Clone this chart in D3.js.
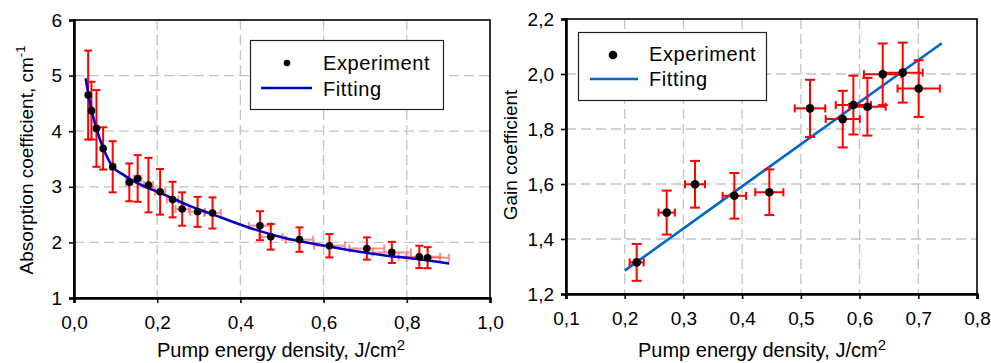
<!DOCTYPE html>
<html><head><meta charset="utf-8">
<script src="https://cdn.jsdelivr.net/npm/d3@7"></script>
<style>
html,body{margin:0;padding:0;background:#fff;}
text{font-family:"Liberation Sans",Arial,sans-serif;fill:#000;}
</style></head>
<body>
<svg id="c" width="991" height="363"></svg>
<script>
// ---------- Data: absorption (left) ----------
const absX    = [0.034,0.042,0.054,0.070,0.093,0.133,0.153,0.179,0.207,0.237,0.260,0.297,0.333,0.447,0.473,0.542,0.614,0.704,0.764,0.830,0.850];
const absY    = [4.65,4.37,4.05,3.69,3.36,3.08,3.15,3.03,2.91,2.77,2.60,2.55,2.53,2.30,2.10,2.05,1.94,1.89,1.82,1.74,1.725];
const absYErr = [0.80,0.52,0.69,0.38,0.46,0.34,0.42,0.49,0.41,0.32,0.30,0.27,0.28,0.26,0.23,0.22,0.21,0.20,0.19,0.20,0.19];
const absXErr = [0.002,0.003,0.003,0.004,0.006,0.008,0.009,0.011,0.012,0.014,0.016,0.018,0.020,0.027,0.028,0.033,0.037,0.042,0.046,0.050,0.051];
const absFitX = [0.028,0.040,0.055,0.070,0.093,0.120,0.143,0.175,0.207,0.271,0.335,0.423,0.504,0.583,0.663,0.744,0.824,0.902];
const absFitY = [4.95,4.45,4.02,3.70,3.36,3.21,3.10,2.99,2.89,2.68,2.50,2.26,2.085,1.965,1.86,1.77,1.70,1.62];
const absXTicks = [0,0.2,0.4,0.6,0.8,1.0];
const absXTickLabels = ["0,0","0,2","0,4","0,6","0,8","1,0"];
const absYTicks = [1,2,3,4,5,6];
const absYTickLabels = ["1","2","3","4","5","6"];

// ---------- Data: gain (right) ----------
const gainX    = [0.2204,0.2715,0.3197,0.3867,0.4463,0.5156,0.5713,0.5894,0.6133,0.6394,0.6735,0.7007];
const gainY    = [1.315,1.496,1.599,1.557,1.570,1.875,1.836,1.887,1.881,1.999,2.005,1.947];
const gainYErr = [0.067,0.080,0.085,0.083,0.083,0.104,0.103,0.107,0.105,0.112,0.109,0.103];
const gainXErr = [0.012,0.014,0.017,0.020,0.024,0.026,0.029,0.030,0.031,0.032,0.034,0.036];
const gainFitX = [0.20,0.74];
const gainFitY = [1.285,2.112];
const gainXTicks = [0.1,0.2,0.3,0.4,0.5,0.6,0.7,0.8];
const gainXTickLabels = ["0,1","0,2","0,3","0,4","0,5","0,6","0,7","0,8"];
const gainYTicks = [1.2,1.4,1.6,1.8,2.0,2.2];
const gainYTickLabels = ["1,2","1,4","1,6","1,8","2,0","2,2"];

const legendLabels = ["Experiment","Fitting"];

const svg = d3.select("#c");
svg.append("rect").attr("width",991).attr("height",363).attr("fill","#fff");

function panel(cfg){
  const {x,y,xTicks,xLabels,yTicks,yLabels} = cfg;
  const g = svg.append("g");
  const [x0,x1] = x.range(), [y0,y1] = y.range();
  // grid
  g.selectAll(".gx").data(xTicks.slice(1,-1)).join("line")
    .attr("x1",d=>x(d)).attr("x2",d=>x(d)).attr("y1",y1).attr("y2",y0)
    .attr("stroke","#c4c4c4").attr("stroke-width",1.3).attr("stroke-dasharray","10,5");
  g.selectAll(".gy").data(yTicks.slice(1,-1)).join("line")
    .attr("y1",d=>y(d)).attr("y2",d=>y(d)).attr("x1",x0).attr("x2",x1)
    .attr("stroke","#c4c4c4").attr("stroke-width",1.3).attr("stroke-dasharray","10,5");
  // frame
  g.append("rect").attr("x",x0).attr("y",y1).attr("width",x1-x0).attr("height",y0-y1)
    .attr("fill","none").attr("stroke","#000").attr("stroke-width",1.6);
  // axes
  const ax = d3.axisBottom(x).tickValues(xTicks).tickFormat((d,i)=>xLabels[i]).tickSizeOuter(0).tickSize(5).tickPadding(6);
  const ay = d3.axisLeft(y).tickValues(yTicks).tickFormat((d,i)=>yLabels[i]).tickSizeOuter(0).tickSize(5).tickPadding(7);
  const gx = g.append("g").attr("transform",`translate(0,${y0})`).call(ax);
  const gy = g.append("g").attr("transform",`translate(${x0},0)`).call(ay);
  [gx,gy].forEach(a=>{
    a.select(".domain").attr("stroke","#000").attr("stroke-width",2.6);
    a.selectAll(".tick line").attr("stroke","#000").attr("stroke-width",1.6);
    a.selectAll(".tick text").attr("font-size",19).attr("font-family","Liberation Sans, Arial, sans-serif").attr("fill","#000");
  });
  gx.selectAll(".tick text").attr("dy","1.05em");
  return g;
}

function errorBars(g,x,y,X,Y,XE,YE,capV,capH,hColor,hOpacity){
  const eg = g.append("g");
  X.forEach((xv,i)=>{
    const cx=x(xv), cy=y(Y[i]);
    // horizontal
    const xl=x(xv-XE[i]), xr=x(xv+XE[i]);
    const h = eg.append("g").attr("stroke",hColor).attr("stroke-width",2).attr("opacity",hOpacity);
    h.append("line").attr("x1",xl).attr("x2",xr).attr("y1",cy).attr("y2",cy);
    h.append("line").attr("x1",xl).attr("x2",xl).attr("y1",cy-capH).attr("y2",cy+capH);
    h.append("line").attr("x1",xr).attr("x2",xr).attr("y1",cy-capH).attr("y2",cy+capH);
    // vertical
    const yt=y(Y[i]+YE[i]), yb=y(Y[i]-YE[i]);
    const v = eg.append("g").attr("stroke","#ff0000").attr("stroke-width",2);
    v.append("line").attr("x1",cx).attr("x2",cx).attr("y1",yt).attr("y2",yb);
    v.append("line").attr("x1",cx-capV).attr("x2",cx+capV).attr("y1",yt).attr("y2",yt);
    v.append("line").attr("x1",cx-capV).attr("x2",cx+capV).attr("y1",yb).attr("y2",yb);
  });
}

// ---------- Left panel ----------
const xA = d3.scaleLinear([0,1],[74,490]);
const yA = d3.scaleLinear([1,6],[298,20]);
const gA = panel({x:xA,y:yA,xTicks:absXTicks,xLabels:absXTickLabels,yTicks:absYTicks,yLabels:absYTickLabels});
errorBars(gA,xA,yA,absX,absY,absXErr,absYErr,4,4,"#ff3030",0.55);
gA.append("path").datum(absFitX.map((v,i)=>[v,absFitY[i]]))
  .attr("d",d3.line().x(d=>xA(d[0])).y(d=>yA(d[1])).curve(d3.curveMonotoneX))
  .attr("fill","none").attr("stroke","#0000c8").attr("stroke-width",2.6);
gA.selectAll(".pt").data(absX).join("circle")
  .attr("cx",d=>xA(d)).attr("cy",(d,i)=>yA(absY[i])).attr("r",3.8).attr("fill","#000");

// legend left
const lgA = svg.append("g");
lgA.append("rect").attr("x",250.5).attr("y",40.5).attr("width",193).attr("height",69)
  .attr("fill","#fff").attr("stroke","#222").attr("stroke-width",1.2);
lgA.append("circle").attr("cx",287).attr("cy",63).attr("r",3.3).attr("fill","#000");
lgA.append("line").attr("x1",261).attr("x2",312).attr("y1",88).attr("y2",88).attr("stroke","#0000c8").attr("stroke-width",2.6);
lgA.append("text").attr("x",323).attr("y",70).attr("font-size",20).attr("letter-spacing",0.6).text(legendLabels[0]);
lgA.append("text").attr("x",323).attr("y",95.5).attr("font-size",20).attr("letter-spacing",0.6).text(legendLabels[1]);

// titles left
const tA = svg.append("text").attr("x",281).attr("y",357).attr("text-anchor","middle").attr("font-size",20);
tA.append("tspan").text("Pump energy density, J/cm");
tA.append("tspan").attr("font-size",15).attr("dy",-7).text("2");
const tAy = svg.append("text").attr("transform","translate(33,160) rotate(-90)").attr("text-anchor","middle").attr("font-size",19);
tAy.append("tspan").text("Absorption coefficient, cm");
tAy.append("tspan").attr("font-size",13).attr("dy",-8).text("-1");

// ---------- Right panel ----------
const xG = d3.scaleLinear([0.1,0.8],[566,977]);
const yG = d3.scaleLinear([1.2,2.2],[294,19]);
const gG = panel({x:xG,y:yG,xTicks:gainXTicks,xLabels:gainXTickLabels,yTicks:gainYTicks,yLabels:gainYTickLabels});
gG.append("path").datum(gainFitX.map((v,i)=>[v,gainFitY[i]]))
  .attr("d",d3.line().x(d=>xG(d[0])).y(d=>yG(d[1])))
  .attr("fill","none").attr("stroke","#0066cc").attr("stroke-width",2.6);
errorBars(gG,xG,yG,gainX,gainY,gainXErr,gainYErr,5,4,"#ff0000",1);
gG.selectAll(".pt").data(gainX).join("circle")
  .attr("cx",d=>xG(d)).attr("cy",(d,i)=>yG(gainY[i])).attr("r",4.3).attr("fill","#000");

// legend right
const lgG = svg.append("g");
lgG.append("rect").attr("x",578.5).attr("y",32.5).attr("width",188).attr("height",68)
  .attr("fill","#fff").attr("stroke","#222").attr("stroke-width",1.2);
lgG.append("circle").attr("cx",613).attr("cy",55).attr("r",4.3).attr("fill","#000");
lgG.append("line").attr("x1",590).attr("x2",638).attr("y1",79).attr("y2",79).attr("stroke","#0066cc").attr("stroke-width",2.6);
lgG.append("text").attr("x",649).attr("y",61).attr("font-size",20).attr("letter-spacing",0.6).text(legendLabels[0]);
lgG.append("text").attr("x",649).attr("y",85.5).attr("font-size",20).attr("letter-spacing",0.6).text(legendLabels[1]);

// titles right
const tG = svg.append("text").attr("x",762).attr("y",357).attr("text-anchor","middle").attr("font-size",20);
tG.append("tspan").text("Pump energy density, J/cm");
tG.append("tspan").attr("font-size",15).attr("dy",-7).text("2");
svg.append("text").attr("transform","translate(517,155) rotate(-90)").attr("text-anchor","middle").attr("font-size",19).text("Gain coefficient");
</script>
</body></html>
